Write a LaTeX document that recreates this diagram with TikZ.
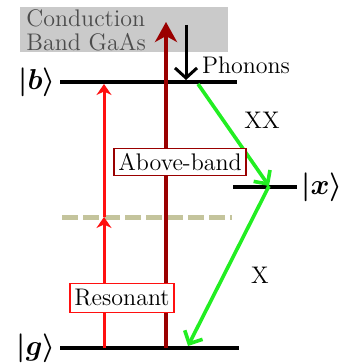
\documentclass[tikz,border=0pt]{standalone}
\usetikzlibrary{arrows.meta}
\definecolor{bandred}{HTML}{9A0000}
\definecolor{laserred}{HTML}{FF1010}
\definecolor{emitgreen}{HTML}{22EE22}
\definecolor{virtgray}{HTML}{C4C49C}
\definecolor{boxgray}{HTML}{CACACA}
\tikzset{
  level/.style={line width=2pt},
  statelab/.style={font=\boldmath\fontsize{15.5}{16}\selectfont, inner sep=2pt},
  pumpbox/.style={draw, fill=white, line width=0.6pt, inner sep=1.5pt},
}
\begin{document}
\begin{tikzpicture}[x=0.5pt,y=-0.5pt,font=\rmfamily\fontsize{12}{13}\selectfont]
  \useasboundingbox (0,0) rectangle (345,363);
  % conduction band
  \fill[boxgray] (20,7) rectangle (228,52);
  \node[anchor=west,text=black!70,align=left,inner sep=0pt,
    font=\rmfamily\fontsize{12}{12}\selectfont] (cb) at (26,30)
    {Conduction\\Band GaAs};
  % levels
  \coordinate (bL) at (60,82);   \coordinate (bR) at (237,82);
  \coordinate (xL) at (233,187); \coordinate (xR) at (297,187);
  \coordinate (gL) at (60,348);  \coordinate (gR) at (239,348);
  \coordinate (vL) at (62,217);  \coordinate (vR) at (232,217);
  \draw[level] (bL) -- (bR);
  \draw[level] (xL) -- (xR);
  \draw[level] (gL) -- (gR);
  \draw[virtgray,line width=2.5pt,dash pattern=on 8pt off 2.5pt] (vL) -- (vR);
  \node[statelab,anchor=east] (b) at (bL) {$|b\rangle$};
  \node[statelab,anchor=west] (x) at (xR) {$|x\rangle$};
  \node[statelab,anchor=east] (g) at (gL) {$|g\rangle$};
  % resonant two-photon
  \coordinate (r0) at (104,348); \coordinate (r1) at (104,217);
  \coordinate (r2) at (104,84);
  \draw[laserred,line width=1.5pt,-{Stealth[length=5.5pt,width=7.5pt]}] (r0) -- (r1);
  \draw[laserred,line width=1.5pt,-{Stealth[length=5.5pt,width=7.5pt]}] (r1) -- (r2);
  % above-band
  \coordinate (a0) at (166,348); \coordinate (a1) at (166,22);
  \draw[bandred,line width=1.8pt,-{Stealth[length=10pt,width=11pt,inset=3pt]}] (a0) -- (a1);
  % phonon relaxation
  \coordinate (p0) at (186,25); \coordinate (p1) at (186,80);
  \draw[line width=1.5pt,-{Straight Barb[length=5pt,width=11pt]}] (p0) -- (p1);
  \node (ph) at (246,65) {Phonons};
  % cascade
  \coordinate (c0) at (198,84); \coordinate (c1) at (269,186);
  \coordinate (c2) at (188,346);
  \draw[emitgreen,line width=1.8pt,-{Straight Barb[length=5pt,width=10pt]}] (c0) -- (c1);
  \draw[emitgreen,line width=1.8pt,-{Straight Barb[length=5pt,width=10pt]}] (c1) -- (c2);
  \node (xx) at (262,120) {XX};
  \node (xs) at (260,275) {X};
  % pump labels
  \node[pumpbox,draw=bandred,minimum width=66pt,minimum height=13.5pt] (ab) at (180,162) {Above-band};
  \node[pumpbox,draw=laserred,minimum width=52pt,minimum height=14.5pt] (rs) at (122,298) {Resonant};
\end{tikzpicture}
\end{document}
